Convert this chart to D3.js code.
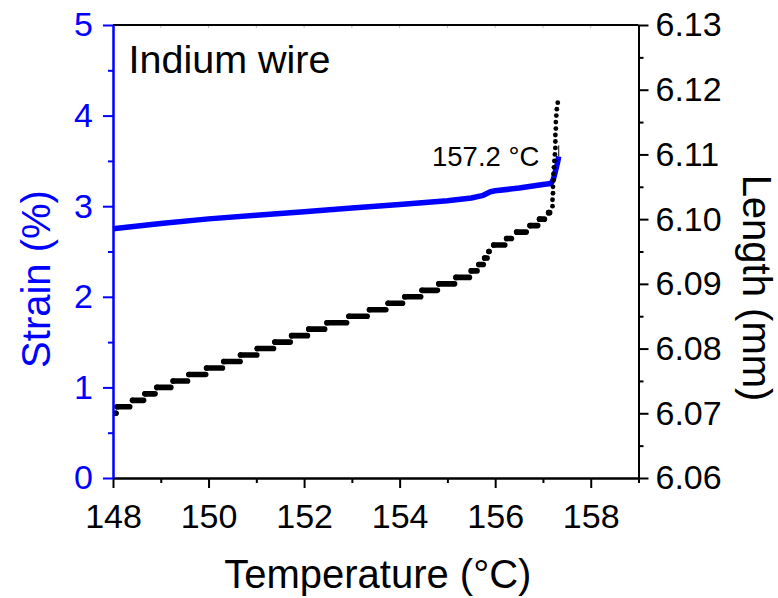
<!DOCTYPE html>
<html>
<head>
<meta charset="utf-8">
<script src="https://cdn.jsdelivr.net/npm/d3@7"></script>
<style>
  html, body { margin: 0; padding: 0; background: #fff; }
  svg { display: block; }
  text { font-family: "Liberation Sans", Arial, Helvetica, sans-serif; }
</style>
</head>
<body>
<svg id="chart" width="778" height="598"></svg>
<script>
// ---------------- data ----------------
const xMajorTicks = [148, 150, 152, 154, 156, 158];
const xMinorTicks = [149, 151, 153, 155, 157, 159];
const strainTicks = [0, 1, 2, 3, 4, 5];
const strainMinor = [0.5, 1.5, 2.5, 3.5, 4.5];
const lengthTicks = [6.06, 6.07, 6.08, 6.09, 6.10, 6.11, 6.12, 6.13];
const lengthLabels = ["6.06", "6.07", "6.08", "6.09", "6.10", "6.11", "6.12", "6.13"];
const lengthMinor = [6.065, 6.075, 6.085, 6.095, 6.105, 6.115, 6.125];

// Strain (%) vs temperature (blue)
const strainT = [148.0, 149.0, 150.0, 151.0, 152.0, 153.0, 154.0, 155.0, 155.5, 155.75, 155.9, 156.0, 156.5, 157.0, 157.17, 157.22, 157.3, 157.33];
const strainV = [2.75, 2.81, 2.86, 2.90, 2.94, 2.98, 3.02, 3.06, 3.09, 3.12, 3.16, 3.17, 3.20, 3.24, 3.25, 3.30, 3.47, 3.55];

// Length (mm): quantized plateaus (level, first T, last T)
const stepLevel = [6.070, 6.071, 6.072, 6.073, 6.074, 6.075, 6.076, 6.077, 6.078, 6.079,
                   6.080, 6.081, 6.082, 6.083, 6.084, 6.085, 6.086, 6.087, 6.088, 6.089,
                   6.090, 6.091, 6.092, 6.093, 6.094, 6.095, 6.096, 6.097, 6.098, 6.099,
                   6.100, 6.101];
const stepStart = [148.06, 148.09, 148.41, 148.67, 148.92, 149.26, 149.59, 149.96, 150.32, 150.67,
                   151.02, 151.39, 151.74, 152.10, 152.48, 152.94, 153.37, 153.76, 154.11, 154.47,
                   154.82, 155.18, 155.50, 155.66, 155.78, 155.87, 155.97, 156.24, 156.45, 156.73,
                   156.93, 157.12];
const stepEnd   = [148.06, 148.35, 148.64, 148.88, 149.21, 149.56, 149.94, 150.29, 150.66, 151.01,
                   151.36, 151.71, 152.07, 152.43, 152.89, 153.32, 153.71, 154.06, 154.44, 154.79,
                   155.15, 155.46, 155.62, 155.75, 155.83, 155.87, 156.20, 156.34, 156.65, 156.89,
                   157.03, 157.14];
// Length: single points during the melting rise
const riseLevel = [6.102, 6.103, 6.104, 6.105, 6.106, 6.107, 6.108, 6.109, 6.110, 6.111,
                   6.112, 6.113, 6.114, 6.115, 6.116, 6.117, 6.118];
const riseT     = [157.20, 157.20, 157.21, 157.21, 157.22, 157.22, 157.23, 157.24, 157.25, 157.26,
                   157.26, 157.26, 157.27, 157.27, 157.28, 157.29, 157.31];

const titleText = "Indium wire";
const annoText = "157.2 °C";

// ---------------- chart ----------------
const svg = d3.select("#chart");
const L = 113, R = 638.5, T = 25, B = 478;
const BLUE = "#0000ff";

const x = d3.scaleLinear().domain([148, 159]).range([L, R]);
const yS = d3.scaleLinear().domain([0, 5]).range([B, T]);
const yL = d3.scaleLinear().domain([6.06, 6.13]).range([B, T]);

function styleAxis(g, color, fontSize) {
  g.selectAll("path.domain").attr("stroke", color).attr("stroke-width", 2);
  g.selectAll(".tick line").attr("stroke", color).attr("stroke-width", 2);
  g.selectAll(".tick text").attr("fill", color).attr("font-size", fontSize)
    .attr("font-family", "Liberation Sans, Arial, sans-serif");
}

// top frame line with faint inner ticks
svg.append("line").attr("x1", L).attr("x2", R).attr("y1", T).attr("y2", T)
  .attr("stroke", "#000").attr("stroke-width", 2);
svg.append("g").selectAll("line").data(d3.range(149, 159))
  .join("line")
  .attr("x1", d => x(d)).attr("x2", d => x(d))
  .attr("y1", T + 1).attr("y2", T + 3)
  .attr("stroke", "#bbb").attr("stroke-width", 1);

// Data: strain line (blue)
const line = d3.line().x((d, i) => x(strainT[i])).y(d => yS(d));
svg.append("path").datum(strainV)
  .attr("d", line)
  .attr("fill", "none").attr("stroke", BLUE).attr("stroke-width", 5.5)
  .attr("stroke-linejoin", "round");

// Data: length plateaus (black)
const steps = stepLevel.map((v, i) => ({ v, t0: stepStart[i], t1: stepEnd[i] }));
const gS = svg.append("g");
gS.selectAll("line").data(steps).join("line")
  .attr("x1", d => x(d.t0)).attr("x2", d => x(d.t1))
  .attr("y1", d => yL(d.v)).attr("y2", d => yL(d.v))
  .attr("stroke", "#000").attr("stroke-width", 5.6).attr("stroke-linecap", "round");
gS.selectAll("circle").data(steps).join("circle")
  .attr("cx", d => x(d.t0)).attr("cy", d => yL(d.v)).attr("r", 2.8).attr("fill", "#000");

svg.append("g").selectAll("circle").data(riseLevel).join("circle")
  .attr("cx", (d, i) => x(riseT[i])).attr("cy", d => yL(d)).attr("r", 2.4).attr("fill", "#000");

// annotation leader
const lastT = strainT[strainT.length - 1], lastV = strainV[strainV.length - 1];
svg.append("line")
  .attr("x1", x(lastT)).attr("x2", x(lastT))
  .attr("y1", yS(lastV)).attr("y2", yS(lastV) - 11)
  .attr("stroke", "#000").attr("stroke-width", 1);

// Axes
const gx = svg.append("g").attr("transform", `translate(0,${B})`)
  .call(d3.axisBottom(x).tickValues(xMajorTicks).tickFormat(d3.format("d"))
    .tickSize(10).tickSizeOuter(0).tickPadding(16));
styleAxis(gx, "#000", 34);
const gxm = svg.append("g").attr("transform", `translate(0,${B})`)
  .call(d3.axisBottom(x).tickValues(xMinorTicks).tickFormat("").tickSize(5).tickSizeOuter(0));
styleAxis(gxm, "#000", 34);

const gr = svg.append("g").attr("transform", `translate(${R},0)`)
  .call(d3.axisRight(yL).tickValues(lengthTicks).tickFormat((d, i) => lengthLabels[i])
    .tickSize(10).tickSizeOuter(0).tickPadding(7));
styleAxis(gr, "#000", 34);
const grm = svg.append("g").attr("transform", `translate(${R},0)`)
  .call(d3.axisRight(yL).tickValues(lengthMinor).tickFormat("").tickSize(5).tickSizeOuter(0));
styleAxis(grm, "#000", 34);

const gl = svg.append("g").attr("transform", `translate(${L},0)`)
  .call(d3.axisLeft(yS).tickValues(strainTicks).tickFormat(d3.format("d"))
    .tickSize(10).tickSizeOuter(0).tickPadding(10));
styleAxis(gl, BLUE, 34);
const glm = svg.append("g").attr("transform", `translate(${L},0)`)
  .call(d3.axisLeft(yS).tickValues(strainMinor).tickFormat("").tickSize(5).tickSizeOuter(0));
styleAxis(glm, BLUE, 34);

// Titles
svg.append("text").attr("x", (L + R) / 2 + 2).attr("y", 588)
  .attr("text-anchor", "middle").attr("font-size", 40).attr("fill", "#000")
  .text("Temperature (°C)");
svg.append("text").attr("transform", "translate(50,279) rotate(-90)")
  .attr("text-anchor", "middle").attr("font-size", 40).attr("fill", BLUE)
  .text("Strain (%)");
svg.append("text").attr("transform", "translate(743,288) rotate(90)")
  .attr("text-anchor", "middle").attr("font-size", 40).attr("fill", "#000")
  .text("Length (mm)");
svg.append("text").attr("x", 128.5).attr("y", 73)
  .attr("font-size", 39.5).attr("fill", "#000").text(titleText);
svg.append("text").attr("x", 432).attr("y", 166)
  .attr("font-size", 27.5).attr("fill", "#000").text(annoText);
</script>
</body>
</html>
